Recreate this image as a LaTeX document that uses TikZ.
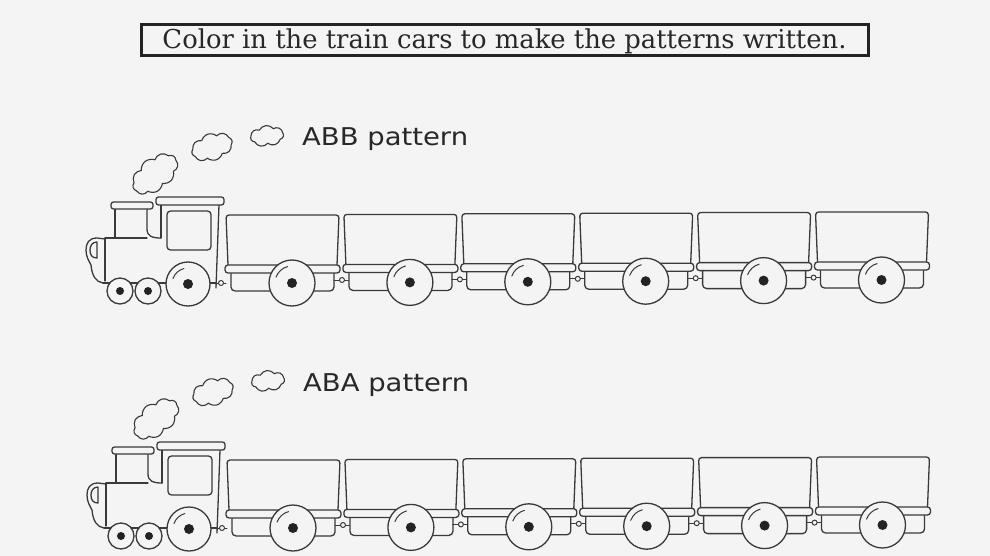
\documentclass[tikz,border=0pt]{standalone}
\usepackage{fontspec}
\setmainfont{DejaVu Serif}
\newfontfamily\comicfont{DejaVu Sans}
\usetikzlibrary{shapes.symbols}
\definecolor{bg}{RGB}{244,244,244}
\definecolor{ink}{RGB}{58,58,58}
\definecolor{txt}{RGB}{40,40,40}
\definecolor{hubc}{RGB}{35,35,35}
\tikzset{
  ln/.style={draw=ink, line width=1.3pt, line join=round, line cap=round},
  puff/.style={cloud, draw=ink, line width=1.1pt, cloud puffs=#1, cloud puff arc=115,
    inner sep=0pt, cloud ignores aspect},
  hub/.style={fill=hubc},
  pattxt/.style={font=\comicfont\fontsize{24.5}{28}\selectfont, text=txt, anchor=base west, inner sep=0pt},
  train/.pic={
    % smoke clouds
    \node[puff=9, minimum width=52pt, minimum height=32pt, rotate=38] (-c1) at (155,174) {};
    \node[puff=8, minimum width=42pt, minimum height=27pt, rotate=18] (-c2) at (212,147) {};
    \node[puff=7, minimum width=33pt, minimum height=21pt, rotate=6] (-c3) at (267,136) {};
    \node[pattxt] (-lab) at (302,146) {\resizebox{166pt}{\height}{#1}};
    % chimney
    \draw[ln] (115,209) -- (115,238);
    \draw[ln] (147,209) -- (147,229) .. controls (147,236) and (152,238) .. (161,238);
    \draw[ln,fill=bg,rounded corners=2.5] (111,202) rectangle (153,209);
    % cab
    \draw[ln] (161,205) -- (161,238);
    \draw[ln] (219,205) -- (216,288);
    \draw[ln,fill=bg,rounded corners=2.5] (156,197) rectangle (224,205);
    \draw[ln,rounded corners=3.5] (167,211) rectangle (211,250);
    % boiler
    \draw[ln] (105,238) -- (147,238);
    \draw[ln] (105,238) -- (105,281);
    \draw[ln] (105,239) -- (97,238) .. controls (89,238) and (86,243) .. (86,250)
      .. controls (86,257) and (89,261) .. (91,265) .. controls (92,276) and (96,282) .. (103,283);
    \draw[ln] (97,242) -- (97,258) .. controls (92,258) and (90,255) .. (90,250)
      .. controls (90,246) and (92,242) .. (97,242);
    \draw[ln] (103,283) -- (216,283);
    % coupler to first car
    \draw[ln,line width=1pt] (216,283) -- (226,283);
    \draw[ln,line width=1pt,fill=bg] (221,283) circle[radius=2.5];
    % wheels of the engine
    \draw[ln,fill=bg] (120,291) circle[radius=13];
    \fill[hub] (120,291) circle[radius=4];
    \draw[ln,fill=bg] (148,291) circle[radius=13];
    \fill[hub] (148,291) circle[radius=4];
    \draw[ln,fill=bg] (188,284) circle[radius=22];
    \draw[ln,line width=1pt] (188,284) ++(200:16) arc[start angle=200, end angle=255, radius=16];
    \fill[hub] (188,284) circle[radius=5];
    % cars
    \foreach \i in {0,...,5}{
      \pgfmathsetmacro\L{226+117.9*\i}
      \pgfmathsetmacro\T{215-0.6*\i}
      \begin{scope}[shift={(\L,\T)}]
        \draw[ln,rounded corners=3] (2,50) -- (0,0) -- (113,0) -- (111,50);
        \draw[ln,fill=bg,rounded corners=4] (5,56) -- (5,76) -- (108,76) -- (108,56);
        \draw[ln,fill=bg,rounded corners=3] (-1,50) rectangle (114,58);
        \ifnum\i<5
          \draw[ln,line width=1pt] (108,65) -- (123,65);
          \draw[ln,line width=1pt,fill=bg] (116,65) circle[radius=2.5];
        \fi
        \draw[ln,fill=bg] (66,68) circle[radius=23];
        \draw[ln,line width=1pt] (66,68) ++(200:17) arc[start angle=200, end angle=255, radius=17];
        \fill[hub] (66,68) circle[radius=5];
      \end{scope}
    }
  }
}
\begin{document}
\begin{tikzpicture}[x=1pt, y=-1pt]
  \fill[bg] (0,0) rectangle (990,556);
  \useasboundingbox (0,0) rectangle (990,556);
  \node[draw=hubc, line width=3pt, minimum width=727pt, inner sep=0pt,
        text height=24pt, text depth=7pt, text=txt,
        font=\fontsize{26}{30}\selectfont] (title) at (504.5,40.5)
        {\resizebox{684pt}{\height}{Color in the train cars to make the patterns written.}};
  \pic (ta) at (0,0) {train=ABB pattern};
  \pic (tb) at (1,245) {train=ABA pattern};
\end{tikzpicture}
\end{document}
